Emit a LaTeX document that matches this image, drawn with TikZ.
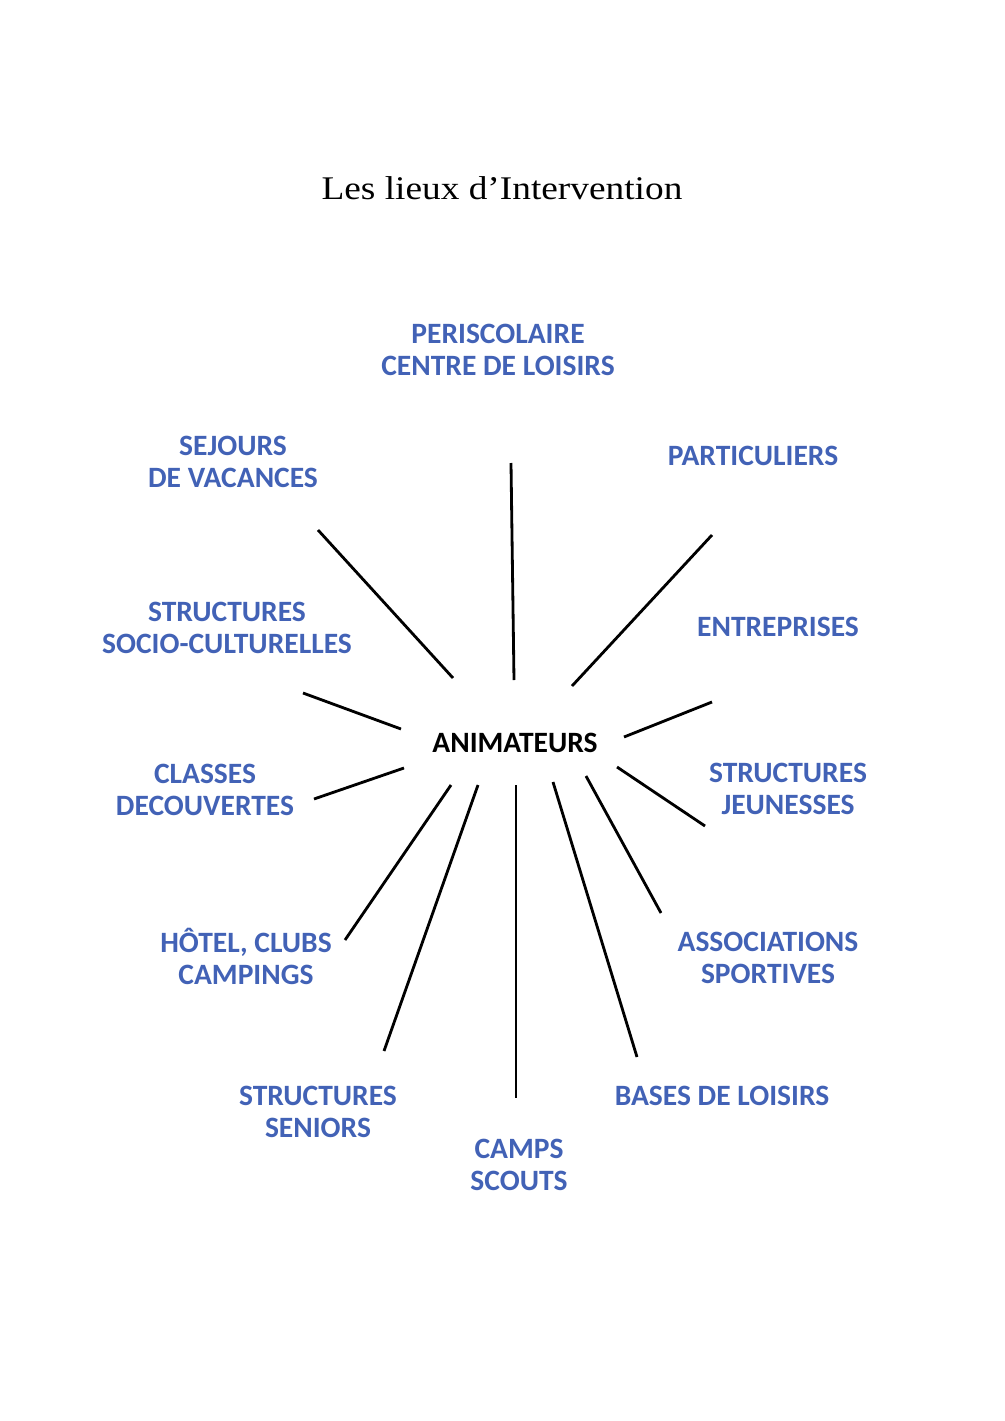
\documentclass[tikz,border=0pt]{standalone}
\usepackage{fontspec}
\setmainfont{Liberation Serif}
\newfontfamily\titrefont{Liberation Serif}[FakeStretch=1.13,Ligatures=TeX]
\newfontfamily\carlito{Carlito}
\definecolor{lieu}{RGB}{66,98,182}
\newcommand\lieufont{\carlito\bfseries\fontsize{21}{22.7}\selectfont}
\begin{document}
\begin{tikzpicture}[x=0.025cm,y=-0.025cm,line width=2pt,
		lbl/.style={text=lieu,font=\lieufont,align=center,inner sep=0pt}]
			\useasboundingbox (0,0) rectangle (1005,1421);
			% titre
			\node[font=\titrefont\fontsize{23.5}{26}\selectfont] (titre) at (502,188) {Les lieux d’Intervention};
			\node[font=\lieufont,inner sep=0pt] (anim) at (515,743) {ANIMATEURS};
			% lieux
			\node[lbl] (peri) at (498,350) {PERISCOLAIRE\\CENTRE DE LOISIRS};
			\node[lbl] (part) at (753,456) {PARTICULIERS};
			\node[lbl] (sej) at (233,462) {SEJOURS\\DE VACANCES};
			\node[lbl] (entr) at (778,627) {ENTREPRISES};
			\node[lbl] (socio) at (227,628) {STRUCTURES\\SOCIO-CULTURELLES};
			\node[lbl] (cls) at (205,790) {CLASSES\\DECOUVERTES};
			\node[lbl] (jeun) at (788,789) {STRUCTURES\\JEUNESSES};
			\node[lbl] (hotel) at (246,956) {HÔTEL, CLUBS\\CAMPINGS};
			\node[lbl] (asso) at (768,958) {ASSOCIATIONS\\SPORTIVES};
			\node[lbl] (sen) at (318,1112) {STRUCTURES\\SENIORS};
			\node[lbl] (bases) at (722,1096) {BASES DE LOISIRS};
			\node[lbl] (camps) at (519,1165) {CAMPS\\SCOUTS};
			% rayons
			\foreach \nom/\xa/\ya/\xb/\yb in {peri/514/680/511/463,sej/453/678/318/530,
				part/572/686/712/535,socio/401/729/303/693,entr/624/737/712/702,
				cls/404/768/314/799,jeun/617/767/705/826,hotel/451/785/345/940,
				sen/478/785/384/1051,camps/516/785/516/1098,bases/553/782/637/1057,
				asso/586/776/661/913}{
				\coordinate (\nom-a) at (\xa,\ya);
				\coordinate (\nom-b) at (\xb,\yb);
				\draw (\nom-a)--(\nom-b);
			}
		\end{tikzpicture}
\end{document}
